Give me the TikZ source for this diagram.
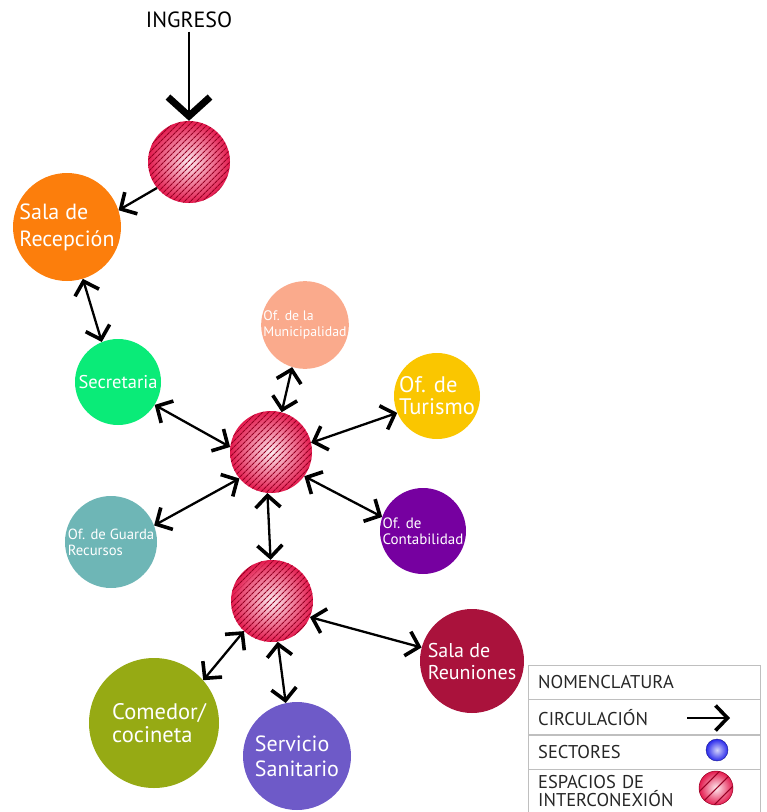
\documentclass[tikz,border=0pt]{standalone}
\usepackage{fontspec}
\setmainfont{PT Sans}
\usetikzlibrary{arrows.meta,patterns.meta}

\definecolor{hubred}{RGB}{228,26,78}
\definecolor{hubline}{RGB}{150,0,35}
\definecolor{recepcol}{RGB}{252,126,12}
\definecolor{secrecol}{RGB}{10,235,120}
\definecolor{municol}{RGB}{250,170,140}
\definecolor{turiscol}{RGB}{250,198,0}
\definecolor{guardacol}{RGB}{110,182,182}
\definecolor{contacol}{RGB}{118,0,160}
\definecolor{reuncol}{RGB}{170,18,60}
\definecolor{comedcol}{RGB}{150,170,20}
\definecolor{sanitcol}{RGB}{110,90,200}
\definecolor{sectorcol}{RGB}{40,40,235}

\newcommand{\fsz}[2]{\fontsize{#1}{#2}\selectfont}

\begin{document}
\begin{tikzpicture}[x=1pt, y=-1pt,
  sector/.style={circle, inner sep=0pt, text=white, align=left},
  hub/.style={circle, inner sep=0pt, minimum size=82pt, inner color=white!92!hubred, outer color=hubred,
              postaction={pattern={Lines[angle=45, distance=#1, line width=1.1pt]}, pattern color=hubline}},
  hub/.default=4pt,
  flowtip/.tip={Straight Barb[length=12pt, width=25pt, line width=3.6pt]},
  twoway/.style={flowtip-flowtip, line width=2.3pt},
  oneway/.style={-flowtip, line width=2.3pt},
  entry/.style={-{Straight Barb[length=19pt, width=42pt, line width=7pt]}, line width=2pt},
  legrow/.style={draw=black!25, anchor=north west, minimum width=232pt, text width=212pt, inner xsep=10pt,
                 align=left, text=black!85, font=\fsz{18.5}{17.5}}]
  \useasboundingbox (0,0) rectangle (767,812);

  % circulacion principal
  \node[font=\fsz{22}{26}] (ingreso) at (189,20) {INGRESO};
  \node[hub] (hubA) at (189,162) {};
  \node[sector, fill=recepcol, minimum size=108pt, font=\fsz{22}{27}] (recep) at (67,227) {Sala de\\Recepción};
  \node[sector, fill=secrecol, minimum size=86pt, font=\fsz{18.5}{22}] (secre) at (118,382) {Secretaria};
  \node[sector, fill=municol, minimum size=86pt, font=\fsz{13.8}{16}] (muni) at (305,325) {Of. de la\\Municipalidad};
  \node[sector, fill=turiscol, minimum size=86pt, font=\fsz{22.5}{22}] (turis) at (437,396) {Of. de\\Turismo};
  \node[hub] (hubB) at (271,452) {};
  \node[sector, fill=guardacol, minimum size=92pt, font=\fsz{14.7}{16}] (guarda) at (111,542) {Of. de Guarda\\Recursos};
  \node[sector, fill=contacol, minimum size=86pt, font=\fsz{15}{16}] (conta) at (423,531) {Of. de\\Contabilidad};
  \node[hub] (hubC) at (272,601) {};
  \node[sector, fill=reuncol, minimum size=104pt, font=\fsz{20}{22}] (reun) at (472,661) {Sala de\\Reuniones};
  \node[sector, fill=comedcol, minimum size=130pt, font=\fsz{22.5}{23}] (comed) at (154,723) {\hspace*{10pt}Comedor/\\\hspace*{10pt}cocineta};
  \node[sector, fill=sanitcol, minimum size=108pt, font=\fsz{22}{25}] (sanit) at (297,756) {Servicio\\Sanitario};

  \draw[entry] (ingreso) -- (hubA);
  \draw[oneway] (hubA.219) -- (recep.18);
  \draw[twoway] (recep.287) -- (secre.112);
  \draw[twoway] (hubB.173) -- (secre.-32);
  \draw[twoway] (hubB.75) -- (muni.253);
  \draw[twoway] (hubB.13) -- (turis.203);
  \draw[twoway] (hubB.220) -- (guarda.21);
  \draw[twoway] (hubB.-36) -- (conta.161);
  \draw[twoway] (hubB.265) -- (hubC.92);
  \draw[twoway] (hubC.-23) -- (reun.165);
  \draw[twoway] (hubC.227) -- (comed.41);
  \draw[twoway] (hubC.278) -- (sanit.102);

  % nomenclatura
  \node[legrow, minimum height=34pt] (nomen) at (528,665) {NOMENCLATURA};
  \node[legrow, minimum height=35pt] (circu) at (nomen.south west) {CIRCULACIÓN};
  \node[legrow, minimum height=34pt] (secto) at (circu.south west) {SECTORES};
  \node[legrow, minimum height=43pt] (espac) at (secto.south west) {ESPACIOS DE\\INTERCONEXIÓN};
  \coordinate (legA) at (687,718);
  \coordinate (legB) at (730,718);
  \draw[oneway] (legA) -- (legB);
  \node[circle, inner sep=0pt, minimum size=22pt, inner color=sectorcol!20, outer color=sectorcol,
        draw=sectorcol!60!black, line width=0.4pt] (legsec) at (717,750) {};
  \node[hub=10pt, minimum size=34pt, draw=hubline, line width=0.5pt] (leghub) at (716,788) {};
\end{tikzpicture}
\end{document}
